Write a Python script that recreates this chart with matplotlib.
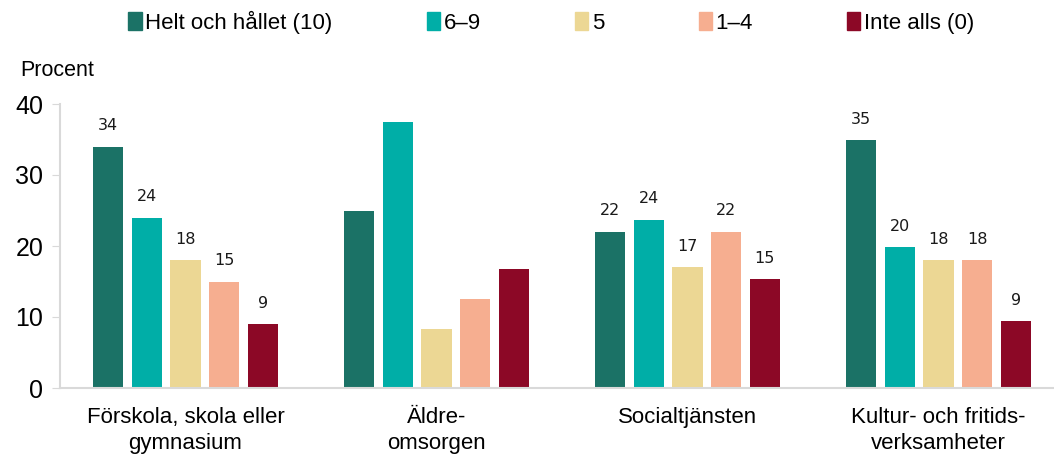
import numpy as np
import matplotlib.pyplot as plt
from matplotlib.patches import Patch

# Data
categories = ["Förskola, skola eller\ngymnasium", "Äldre-\nomsorgen",
              "Socialtjänsten", "Kultur- och fritids-\nverksamheter"]
series = ["Helt och hållet (10)", "6\u20139", "5", "1\u20134", "Inte alls (0)"]
colors = ["#1b7266", "#00aea7", "#ecd794", "#f6ae90", "#8c0826"]

helt = [34.0, 25.0, 22.0, 34.9]
sex_nio = [24.0, 37.5, 23.7, 19.8]
fem = [18.0, 8.3, 17.0, 18.0]
ett_fyra = [15.0, 12.5, 22.0, 18.0]
inte = [9.0, 16.7, 15.3, 9.4]
values = [helt, sex_nio, fem, ett_fyra, inte]

# labels shown (Äldreomsorgen has none)
show_labels = [True, False, True, True]

plt.rcParams['font.family'] = ['Liberation Sans', 'DejaVu Sans']

fig = plt.figure(figsize=(10.54, 4.55), dpi=100)
ax = fig.add_axes([60 / 1054, 67 / 455, 1 - 60 / 1054, (388 - 104) / 455])

x = np.arange(len(categories))
step = 0.154
width = 0.12
for i, (name, vals) in enumerate(zip(series, values)):
    pos = x + (i - 2) * step
    ax.bar(pos, vals, width, color=colors[i], label=name)
    for p, v, s in zip(pos, vals, show_labels):
        if s:
            ax.text(p, v + 1.9, f"{round(v):.0f}", ha="center", va="bottom",
                    fontsize=11.5, family=["DejaVu Sans"], color="#1a1a1a")

ax.set_xlim(-0.5, 3.46)
ax.set_ylim(0, 40)
ax.set_yticks([0, 10, 20, 30, 40])
ax.set_xticks(x)
ax.set_xticklabels(categories, fontsize=16, linespacing=1.3)
ax.tick_params(axis="x", length=0, pad=14)
ax.tick_params(axis="y", labelsize=18, length=6, color="#d9d9d9", pad=6)
for s in ["top", "right"]:
    ax.spines[s].set_visible(False)
for s in ["left", "bottom"]:
    ax.spines[s].set_color("#d9d9d9")
    ax.spines[s].set_linewidth(1.5)

fig.text(20 / 1054, 1 - 70 / 455, "Procent", fontsize=15.5, va="center")

handles = [Patch(color=c) for c in colors]
fig.legend(handles, series, loc="center", bbox_to_anchor=(0.523, 1 - 22 / 455),
           ncol=5, frameon=False, fontsize=16, handlelength=0.6, handleheight=0.9,
           handletextpad=0.15, columnspacing=4.25)

fig.savefig("out.png", dpi=100)
